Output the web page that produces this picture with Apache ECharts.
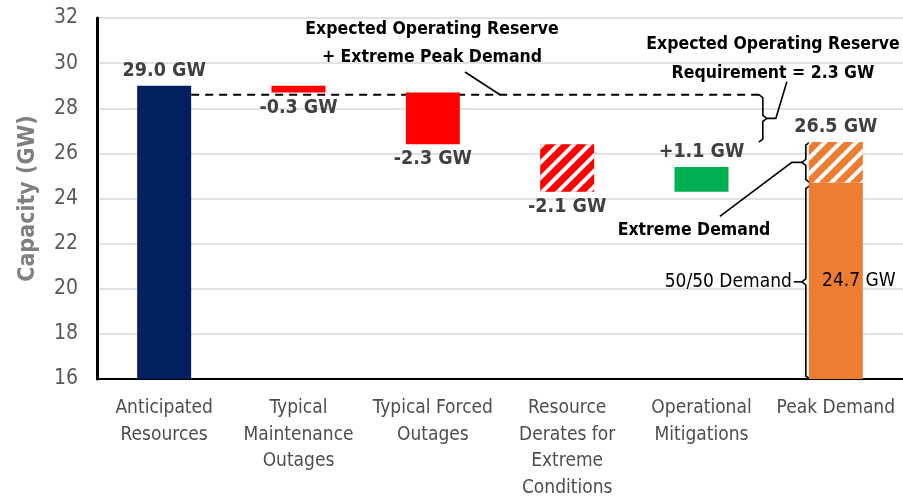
<!DOCTYPE html>
<html>
<head>
<meta charset="utf-8">
<script src="https://cdn.jsdelivr.net/npm/echarts@6/dist/echarts.min.js"></script>
<style>
  html, body { margin: 0; padding: 0; background: #fff; }
  #main { width: 903px; height: 501px; }
</style>
</head>
<body>
<div id="main"></div>
<script>
// waterfall data
const categories = ['Anticipated\nResources', 'Typical\nMaintenance\nOutages', 'Typical Forced\nOutages',
  'Resource\nDerates for\nExtreme\nConditions', 'Operational\nMitigations', 'Peak Demand'];
const baseValues = [0, 28.7, 26.4, 24.3, 24.3, 0];      // invisible part under each step
const solidValues = [29.0, 0.3, 2.3, 0, 1.1, 24.7];
const hatchValues = [0, 0, 0, 2.1, 0, 1.8];
const valueLabels = ['29.0 GW', '-0.3 GW', '-2.3 GW', '-2.1 GW', '+1.1 GW', '26.5 GW'];
const barColors = ['#002060', '#ff0000', '#ff0000', '#ff0000', '#00b050', '#ed7d31'];
const reserveLevel = 28.6;
const peakLevel = 26.5;
const normalDemand = 24.7;

const FONT = "'Liberation Sans Narrow', 'DejaVu Sans Condensed', sans-serif";
const hatch = {
  symbol: 'rect', symbolSize: 1, color: '#ffffff',
  dashArrayX: [1, 0], dashArrayY: [3.5, 6.5], rotation: -Math.PI / 4
};

var chart = echarts.init(document.getElementById('main'));

const solidSides = ['top', 'bottom', 'bottom', 'top', 'top', 'inside'];
const hatchSides = ['top', 'top', 'top', 'bottom', 'top', 'top'];
const valLabel = { show: true, fontFamily: FONT, fontWeight: 'bold', fontSize: 19.5, color: '#404040', distance: 5 };

let option = {
  animation: false,
  grid: { left: 97, right: 0, top: 18, bottom: 119 },
  xAxis: {
    type: 'category',
    data: categories,
    axisLine: { lineStyle: { color: '#000', width: 2 } },
    axisTick: { show: false },
    axisLabel: { interval: 0, fontFamily: FONT, fontSize: 19, lineHeight: 26.5, color: '#4d4d4d', margin: 16 }
  },
  yAxis: {
    type: 'value', min: 16, max: 32, interval: 2,
    name: 'Capacity (GW)', nameLocation: 'middle', nameGap: 57,
    nameTextStyle: { fontFamily: FONT, fontWeight: 'bold', fontSize: 23, color: '#7f7f7f' },
    axisLine: { show: true, lineStyle: { color: '#000', width: 3 } },
    axisLabel: { fontFamily: FONT, fontSize: 21, color: '#595959', margin: 19 },
    splitLine: { lineStyle: { color: '#d9d9d9', width: 1.5 } }
  },
  series: [
    {
      type: 'bar', stack: 'w', barWidth: 54,
      itemStyle: { color: 'transparent' },
      data: baseValues
    },
    {
      type: 'bar', stack: 'w', barWidth: 54,
      data: solidValues.map((v, i) => ({
        value: v,
        itemStyle: { color: barColors[i] },
        label: v === 0 ? { show: false } : Object.assign({}, valLabel,
          i === 5 ? { position: 'inside', offset: [23, 0], color: '#000', fontWeight: 'normal', fontSize: 19, formatter: normalDemand.toFixed(1) + ' GW' }
                  : { position: solidSides[i], formatter: valueLabels[i] })
      }))
    },
    {
      type: 'bar', stack: 'w', barWidth: 54,
      data: hatchValues.map((v, i) => ({
        value: v,
        itemStyle: { color: barColors[i], decal: hatch },
        label: v === 0 ? { show: false } : Object.assign({}, valLabel, { position: hatchSides[i], formatter: valueLabels[i] })
      }))
    }
  ]
};
chart.setOption(option);

// annotations: dashed reserve line, brackets and callouts
const px = (i, v) => chart.convertToPixel({ xAxisIndex: 0, yAxisIndex: 0 }, [i, v]);
const half = 27;
const p0 = px(0, reserveLevel);
const pPeak = px(5, peakLevel);
const yRes = p0[1];
const yPeak = pPeak[1];
const yNorm = px(5, normalDemand)[1];
const yBase = px(5, 16)[1];
const bx = pPeak[0] - 73;          // reserve bracket
const ex = pPeak[0] - 30;          // demand brackets
const line = (pts, extra) => Object.assign({ type: 'polyline', shape: { points: pts }, style: { stroke: '#000', lineWidth: 1.6, fill: null } }, extra || {});
const txt = (x, y, t, align, extra) => ({
  type: 'text', x: x, y: y,
  style: Object.assign({ text: t, fontFamily: FONT, fontWeight: 'bold', fontSize: 17.5, fill: '#000', align: align || 'center', verticalAlign: 'middle' }, extra || {})
});
const yMidRes = (yRes + yPeak) / 2;
const yMidExt = (yPeak + yNorm) / 2;
const yMidNorm = (yNorm + 2 + yBase) / 2;

chart.setOption({
  graphic: [
    { type: 'line', shape: { x1: p0[0] + half, y1: yRes, x2: bx - 3, y2: yRes }, style: { stroke: '#000', lineWidth: 2, lineDash: [8, 6] } },
    line([[bx - 4, yRes], [bx, yRes + 3], [bx, yMidRes - 3], [bx + 4, yMidRes], [bx, yMidRes + 3], [bx, yPeak - 3], [bx - 4, yPeak]]),
    line([[bx + 4, yMidRes], [bx + 13, yMidRes], [bx + 24, yRes - 13]]),
    line([[ex + 4, yPeak], [ex, yPeak + 3], [ex, yMidExt - 3], [ex - 4, yMidExt], [ex, yMidExt + 3], [ex, yNorm - 3], [ex + 4, yNorm]]),
    line([[ex - 4, yMidExt], [ex - 14, yMidExt], [ex - 86, yMidExt + 54]]),
    line([[ex + 4, yNorm + 3], [ex, yNorm + 6], [ex, yMidNorm - 3], [ex - 4, yMidNorm], [ex, yMidNorm + 3], [ex, yBase - 3], [ex + 4, yBase]]),
    line([[ex - 4, yMidNorm], [ex - 12, yMidNorm]]),
    line([[465, 72], [500, yRes]]),
    txt(432, 29, 'Expected Operating Reserve'),
    txt(432, 57, '+ Extreme Peak Demand'),
    txt(773, 44, 'Expected Operating Reserve'),
    txt(773, 73, 'Requirement = 2.3 GW'),
    txt(694, 230, 'Extreme Demand'),
    txt(ex - 14, yMidNorm, '50/50 Demand', 'right', { fontWeight: 'normal', fontSize: 19 })
  ]
});
</script>
</body>
</html>
